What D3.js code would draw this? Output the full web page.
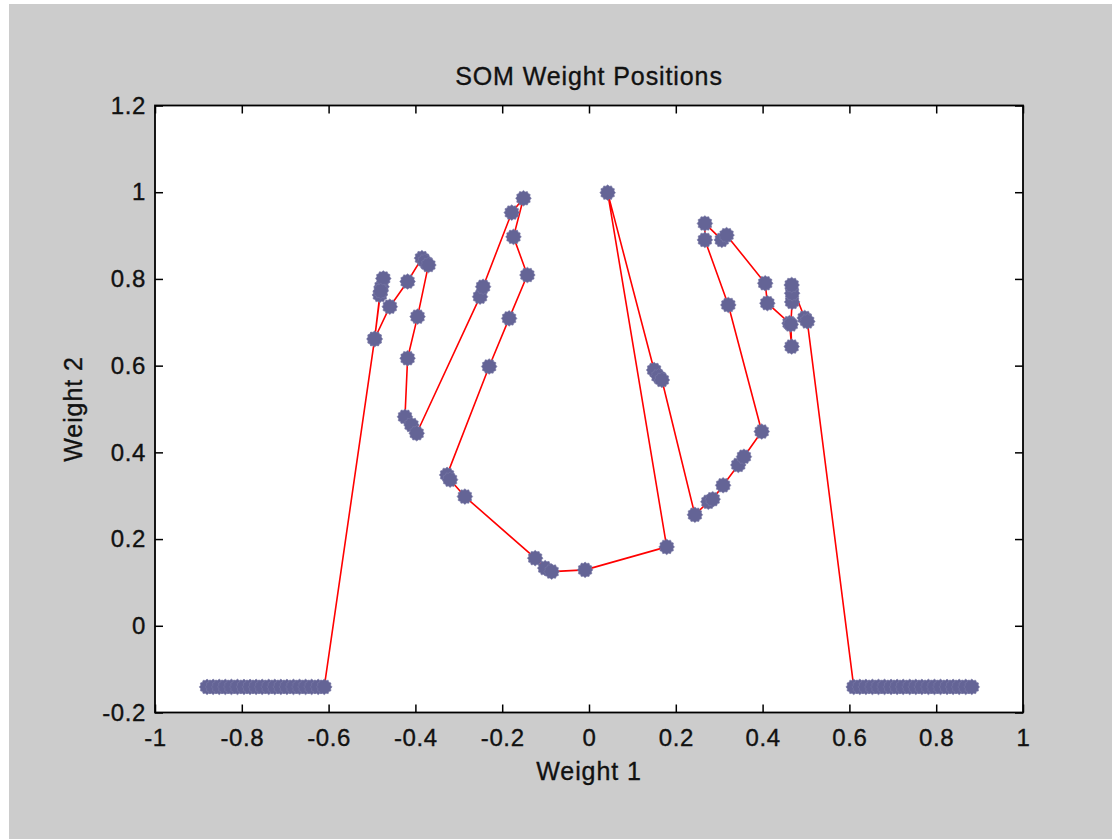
<!DOCTYPE html>
<html>
<head>
<meta charset="utf-8">
<script src="https://cdn.jsdelivr.net/npm/d3@7"></script>
<style>
  html, body { margin: 0; padding: 0; background: #ffffff; }
  svg { display: block; font-family: "Liberation Sans", Arial, sans-serif; }
</style>
</head>
<body>
<svg id="chart" width="1112" height="839"></svg>
<script>
// Neuron weight vectors along the 1-D SOM chain, in chain order.
const weight1 = [
  -0.880, -0.866, -0.852, -0.838, -0.824, -0.810, -0.795, -0.781, -0.767, -0.753,
  -0.738, -0.724, -0.710, -0.696, -0.681, -0.667, -0.653, -0.639, -0.624, -0.610,
  -0.494, -0.482, -0.478, -0.474, -0.480, -0.494, -0.459, -0.418, -0.385, -0.378,
  -0.370, -0.395, -0.418, -0.424, -0.409, -0.397, -0.251, -0.244, -0.178, -0.151,
  -0.174, -0.142, -0.184, -0.230, -0.327, -0.320, -0.286, -0.124, -0.101, -0.086,
  -0.009,  0.179,  0.043,  0.150,  0.160,  0.168,  0.244,  0.275,  0.285,  0.309,
   0.344,  0.357,  0.398,  0.321,  0.267,  0.267,  0.306,  0.317,  0.406,  0.411,
   0.462,  0.467,  0.465,  0.468,  0.468,  0.467,  0.497,  0.503,
   0.610,  0.624,  0.638,  0.653,  0.667,  0.681,  0.696,  0.710,  0.724,  0.739,
   0.753,  0.767,  0.782,  0.796,  0.810,  0.825,  0.839,  0.853,  0.868,  0.882
];
const weight2 = [
  -0.141, -0.141, -0.141, -0.141, -0.141, -0.141, -0.141, -0.141, -0.141, -0.141,
  -0.141, -0.141, -0.141, -0.141, -0.141, -0.141, -0.141, -0.141, -0.141, -0.141,
   0.661,  0.763,  0.782,  0.801,  0.772,  0.662,  0.736,  0.794,  0.848,  0.840,
   0.832,  0.713,  0.617,  0.482,  0.463,  0.444,  0.759,  0.782,  0.953,  0.986,
   0.897,  0.809,  0.709,  0.598,  0.348,  0.337,  0.298,  0.156,  0.133,  0.125,
   0.129,  0.182,  0.999,  0.590,  0.575,  0.567,  0.256,  0.286,  0.292,  0.324,
   0.371,  0.390,  0.448,  0.740,  0.890,  0.928,  0.890,  0.901,  0.790,  0.744,
   0.698,  0.644,  0.695,  0.747,  0.767,  0.786,  0.710,  0.702,
  -0.141, -0.141, -0.141, -0.141, -0.141, -0.141, -0.141, -0.141, -0.141, -0.141,
  -0.141, -0.141, -0.141, -0.141, -0.141, -0.141, -0.141, -0.141, -0.141, -0.141
];

const xTicks = [-1, -0.8, -0.6, -0.4, -0.2, 0, 0.2, 0.4, 0.6, 0.8, 1];
const xTickLabels = ["-1", "-0.8", "-0.6", "-0.4", "-0.2", "0", "0.2", "0.4", "0.6", "0.8", "1"];
const yTicks = [-0.2, 0, 0.2, 0.4, 0.6, 0.8, 1, 1.2];
const yTickLabels = ["-0.2", "0", "0.2", "0.4", "0.6", "0.8", "1", "1.2"];

const titleText = "SOM Weight Positions";
const xLabelText = "Weight 1";
const yLabelText = "Weight 2";

const W = 1112, H = 839;
const svg = d3.select("#chart");

// Figure background (grey window area with a thin light frame)
svg.append("rect").attr("x", 0).attr("y", 0).attr("width", W).attr("height", H).attr("fill", "#ffffff");
svg.append("rect").attr("x", 9).attr("y", 4).attr("width", W - 9).attr("height", H - 4).attr("fill", "#cccccc");

const plot = { left: 155, right: 1023, top: 105.5, bottom: 712.5 };
const x = d3.scaleLinear().domain([-1, 1]).range([plot.left, plot.right]);
const y = d3.scaleLinear().domain([-0.2, 1.2]).range([plot.bottom, plot.top]);

// Axes area
svg.append("rect")
  .attr("x", plot.left).attr("y", plot.top)
  .attr("width", plot.right - plot.left).attr("height", plot.bottom - plot.top)
  .attr("fill", "#ffffff");

const nodes = weight1.map((w, i) => ({ w1: w, w2: weight2[i] }));

// Chain links between neighbouring neurons
const line = d3.line().x(d => x(d.w1)).y(d => y(d.w2));
svg.append("path")
  .datum(nodes)
  .attr("d", line)
  .attr("fill", "none")
  .attr("stroke", "#ff0000")
  .attr("stroke-width", 1.6)
  .attr("stroke-linejoin", "round");

// Neuron markers: small cog-like blobs
const teeth = 12, rOut = 7.8, rIn = 6.6;
const cogPts = [];
for (let k = 0; k < teeth * 2; k++) {
  const a = (Math.PI * k) / teeth;
  const r = k % 2 === 0 ? rOut : rIn;
  cogPts.push([r * Math.cos(a), r * Math.sin(a)]);
}
const cogPath = "M" + cogPts.map(p => p[0].toFixed(2) + "," + p[1].toFixed(2)).join("L") + "Z";

svg.append("g")
  .selectAll("path")
  .data(nodes)
  .join("path")
  .attr("d", cogPath)
  .attr("transform", d => `translate(${x(d.w1)},${y(d.w2)})`)
  .attr("fill", "#646496")
  .attr("stroke", "#7878a6")
  .attr("stroke-width", 0.6);

// Shared text styling: slightly heavy dark glyphs
const textStyle = (sel, size, spacing) => sel
  .attr("font-size", size)
  .attr("letter-spacing", spacing)
  .attr("fill", "#111")
  .attr("stroke", "#111")
  .attr("stroke-width", 0.35)
  .attr("font-family", "'Liberation Sans', Arial, sans-serif");

// Axes with inward ticks on all four sides
const styleAxis = g => {
  g.select(".domain").remove();
  g.selectAll(".tick line").attr("stroke", "#000").attr("stroke-width", 1.5);
  g.selectAll(".tick text").call(textStyle, 24, 0.6);
};

svg.append("g")
  .attr("transform", `translate(0,${plot.bottom})`)
  .call(d3.axisBottom(x).tickValues(xTicks).tickSize(-8).tickPadding(16)
    .tickFormat((d, i) => xTickLabels[i]))
  .call(styleAxis);

svg.append("g")
  .attr("transform", `translate(0,${plot.top})`)
  .call(d3.axisTop(x).tickValues(xTicks).tickSize(-8).tickFormat(""))
  .call(styleAxis);

svg.append("g")
  .attr("transform", `translate(${plot.left},0)`)
  .call(d3.axisLeft(y).tickValues(yTicks).tickSize(-8).tickPadding(9)
    .tickFormat((d, i) => yTickLabels[i]))
  .call(styleAxis);

svg.append("g")
  .attr("transform", `translate(${plot.right},0)`)
  .call(d3.axisRight(y).tickValues(yTicks).tickSize(-8).tickFormat(""))
  .call(styleAxis);

// Axes box
svg.append("rect")
  .attr("x", plot.left).attr("y", plot.top)
  .attr("width", plot.right - plot.left).attr("height", plot.bottom - plot.top)
  .attr("fill", "none").attr("stroke", "#000").attr("stroke-width", 1.8);

// Title and axis labels
svg.append("text")
  .attr("x", (plot.left + plot.right) / 2).attr("y", 85)
  .attr("text-anchor", "middle")
  .call(textStyle, 25, 0.9)
  .text(titleText);

svg.append("text")
  .attr("x", (plot.left + plot.right) / 2).attr("y", 780)
  .attr("text-anchor", "middle")
  .call(textStyle, 25, 0.9)
  .text(xLabelText);

svg.append("text")
  .attr("transform", `translate(82,${(plot.top + plot.bottom) / 2}) rotate(-90)`)
  .attr("text-anchor", "middle")
  .call(textStyle, 25, 0.9)
  .text(yLabelText);
</script>
</body>
</html>
